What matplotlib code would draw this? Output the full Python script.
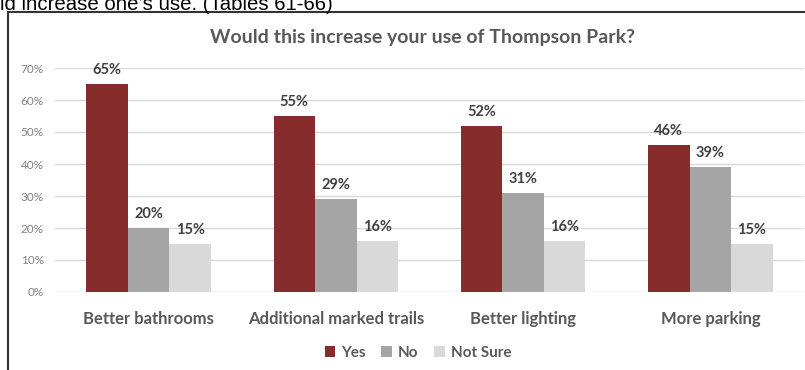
import matplotlib
matplotlib.use("Agg")
import matplotlib.pyplot as plt
from matplotlib.lines import Line2D
from matplotlib.patches import Patch
import numpy as np

categories = ["Better bathrooms", "Additional marked trails", "Better lighting", "More parking"]
series_names = ["Yes", "No", "Not Sure"]
yes_vals = [65, 55, 52, 46]
no_vals = [20, 29, 31, 39]
not_sure_vals = [15, 16, 16, 15]
y_ticks = [0, 10, 20, 30, 40, 50, 60, 70]

colors = ["#862C2C", "#A5A5A5", "#D9D9D9"]
text_grey = "#595959"

plt.rcParams["font.family"] = ["Lato", "DejaVu Sans"]

fig = plt.figure(figsize=(8.05, 3.70), dpi=100)
W, H = 805, 370
ax = fig.add_axes([55 / W, 1 - 292 / H, (804 - 55) / W, (292 - 68) / H])

x = np.arange(len(categories))
width = 0.222
all_vals = [yes_vals, no_vals, not_sure_vals]
for i, (vals, name) in enumerate(zip(all_vals, series_names)):
    pos = x + (i - 1) * width
    ax.bar(pos, vals, width=width, color=colors[i], label=name, zorder=3)
    for px, v in zip(pos, vals):
        ax.annotate("{}%".format(v), (px, v), xytext=(0, 5), textcoords="offset points",
                    ha="center", va="bottom", fontsize=10.5, fontweight="bold",
                    color="#404040")

ax.set_xlim(-0.5, len(categories) - 0.5)
ax.set_ylim(0, 70)
ax.set_yticks(y_ticks)
ax.set_yticklabels(["{}%".format(t) for t in y_ticks])
ax.set_xticks(x)
ax.set_xticklabels(categories)
ax.tick_params(axis="y", length=0, pad=8, labelsize=8.5, labelcolor="#808080")
ax.tick_params(axis="x", length=0, pad=14, labelsize=12, labelcolor=text_grey)
for lab in ax.get_xticklabels():
    lab.set_fontweight("bold")
ax.grid(axis="y", color="#D9D9D9", linewidth=1, zorder=0)
for s in ax.spines.values():
    s.set_visible(False)

fig.text(422 / W, 1 - 38 / H, "Would this increase your use of Thompson Park?",
         ha="center", va="center", fontsize=14, fontweight="bold", color=text_grey)

handles = [Patch(facecolor=c) for c in colors]
fig.legend(handles, series_names, loc="center", bbox_to_anchor=(418 / W, 1 - 353 / H),
           ncol=3, frameon=False, handlelength=0.7, handleheight=0.7,
           handletextpad=0.4, columnspacing=1.0, labelcolor=text_grey,
           prop={"weight": "bold", "size": 11})

# frame around the chart
fig.add_artist(Line2D([8 / W, 8 / W], [0, 1 - 12 / H], color="#333333", lw=1.5))
fig.add_artist(Line2D([8 / W, 1], [1 - 12 / H, 1 - 12 / H], color="#333333", lw=1.5))

# tail of the sentence above the chart
fig.text(0, 1 - 10 / H, "ld increase one\u2019s use. (Tables 61-66)", ha="left",
         va="baseline", fontsize=14.7, color="black", family="Liberation Sans")

fig.savefig("out.png", dpi=100)
